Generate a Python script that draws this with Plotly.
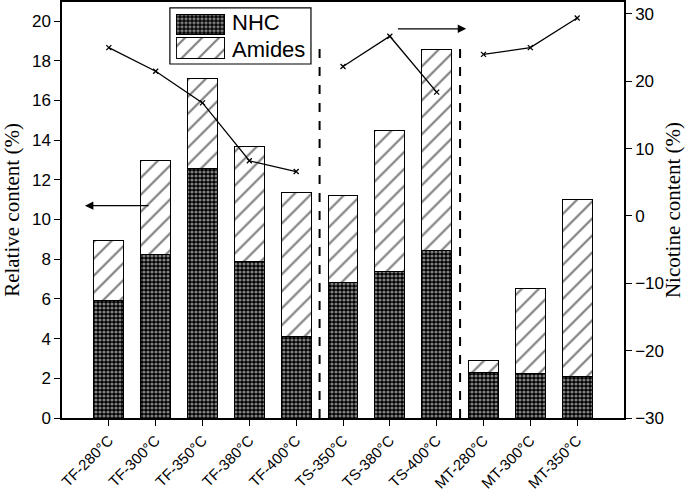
import plotly.graph_objects as go

# sample names
samples = ['TF-280°C', 'TF-300°C', 'TF-350°C', 'TF-380°C', 'TF-400°C',
           'TS-350°C', 'TS-380°C', 'TS-400°C',
           'MT-280°C', 'MT-300°C', 'MT-350°C']
groups = ['TF'] * 5 + ['TS'] * 3 + ['MT'] * 3

# relative content (%)
nhc = [5.9, 8.25, 12.55, 7.9, 4.1, 6.85, 7.4, 8.45, 2.3, 2.25, 2.1]
amides = [3.05, 4.7, 4.55, 5.8, 7.25, 4.35, 7.1, 10.1, 0.6, 4.3, 8.9]

# nicotine content (%) on the right axis
nicotine = [25.0, 21.5, 16.8, 8.2, 6.6, 22.2, 26.7, 18.4, 24.0, 25.0, 29.4]

legend_names = ['NHC', 'Amides']

# NHC: white dots on black, Amides: thin diagonal hatch
nhc_pat = dict(shape='.', fgcolor='white', bgcolor='black', size=4, solidity=0.5)
am_pat = dict(shape='/', fgcolor='black', bgcolor='white', size=12, solidity=0.18)
outline = dict(color='black', width=1)

fig = go.Figure()

fig.add_trace(go.Bar(x=samples, y=nhc, name='NHC', width=0.64,
                     marker=dict(color='white', line=outline, pattern=nhc_pat)))
fig.add_trace(go.Bar(x=samples, y=amides, name='Amides', width=0.64,
                     marker=dict(color='white', line=outline, pattern=am_pat)))

# nicotine line, one piece per group
for g in ['TF', 'TS', 'MT']:
    xs = [s for s, gg in zip(samples, groups) if gg == g]
    ys = [v for v, gg in zip(nicotine, groups) if gg == g]
    fig.add_trace(go.Scatter(
        x=xs, y=ys, yaxis='y2', mode='lines+markers',
        line=dict(color='black', width=1.3),
        marker=dict(symbol='x-thin', size=5, color='black',
                    line=dict(color='black', width=1.3))))

# big legend swatches (plotly's own legend swatches are tiny)
fig.add_trace(go.Bar(x=[1], y=[legend_names[0]], orientation='h', width=0.88,
                     xaxis='x2', yaxis='y3',
                     marker=dict(color='white', line=outline, pattern=nhc_pat)))
fig.add_trace(go.Bar(x=[1], y=[legend_names[1]], orientation='h', width=0.88,
                     xaxis='x2', yaxis='y3',
                     marker=dict(color='white', line=outline, pattern=am_pat)))

fig.add_shape(type='rect', xref='paper', yref='paper', x0=0.192, x1=0.443,
              y0=0.851, y1=0.986, line=dict(color='black', width=1.2))
for name, ypos in zip(legend_names, [0.950, 0.887]):
    fig.add_annotation(x=0.299, y=ypos, xref='paper', yref='paper', text=name,
                       showarrow=False, xanchor='left', yanchor='middle',
                       font=dict(family='Liberation Sans, Arial', size=22, color='black'))

# dashed separators between groups
for xpos in [4.5, 7.5]:
    fig.add_shape(type='line', xref='x', yref='y', x0=xpos, x1=xpos, y0=0, y1=19,
                  line=dict(color='black', width=2, dash='dash'))

# arrows showing which axis belongs to what
fig.add_annotation(x=-0.51, y=10.7, ax=0.88, ay=10.7, xref='x', yref='y',
                   axref='x', ayref='y', text='', showarrow=True,
                   arrowhead=2, arrowsize=1.3, arrowwidth=1.3, arrowcolor='black')
fig.add_annotation(x=7.63, y=27.8, ax=6.14, ay=27.8, xref='x', yref='y2',
                   axref='x', ayref='y2', text='', showarrow=True,
                   arrowhead=2, arrowsize=1.3, arrowwidth=1.3, arrowcolor='black')

tick_font = dict(family='Liberation Sans, Arial', size=17, color='black')
title_font = dict(family='Liberation Serif, Times New Roman', size=21, color='black')

fig.update_layout(
    barmode='stack',
    showlegend=False,
    width=685, height=492,
    margin=dict(l=62, r=61, t=2, b=74),
    plot_bgcolor='white', paper_bgcolor='white',
    xaxis=dict(range=[-1, 11], tickangle=-45, tickfont=dict(tick_font, size=15),
               showline=True, linecolor='black', linewidth=1.5, mirror=True,
               ticks='outside', ticklen=6, tickcolor='black', showgrid=False,
               automargin=False),
    yaxis=dict(range=[0, 20.96], dtick=2, tickfont=tick_font,
               title=dict(text='Relative content (%)', font=title_font, standoff=10),
               showline=True, linecolor='black', linewidth=1.5,
               ticks='outside', ticklen=6, tickcolor='black', showgrid=False,
               zeroline=False, automargin=False),
    yaxis2=dict(range=[-30, 31.78], dtick=10, overlaying='y', side='right',
                tickfont=tick_font,
                title=dict(text='Nicotine content (%)', font=title_font, standoff=2),
                showline=True, linecolor='black', linewidth=1.5,
                ticks='outside', ticklen=6, tickcolor='black', showgrid=False,
                zeroline=False, automargin=False),
    xaxis2=dict(domain=[0.203, 0.290], anchor='y3', range=[0, 1], visible=False),
    yaxis3=dict(domain=[0.861, 0.974], anchor='x2', range=[1.5, -0.5],
                type='category', visible=False),
)

# the page's default body margin would push the figure 8px in
fig.write_html('out.html', config={'displayModeBar': False},
               post_script="document.body.style.margin='0';"
                           "document.body.style.overflow='hidden';")
